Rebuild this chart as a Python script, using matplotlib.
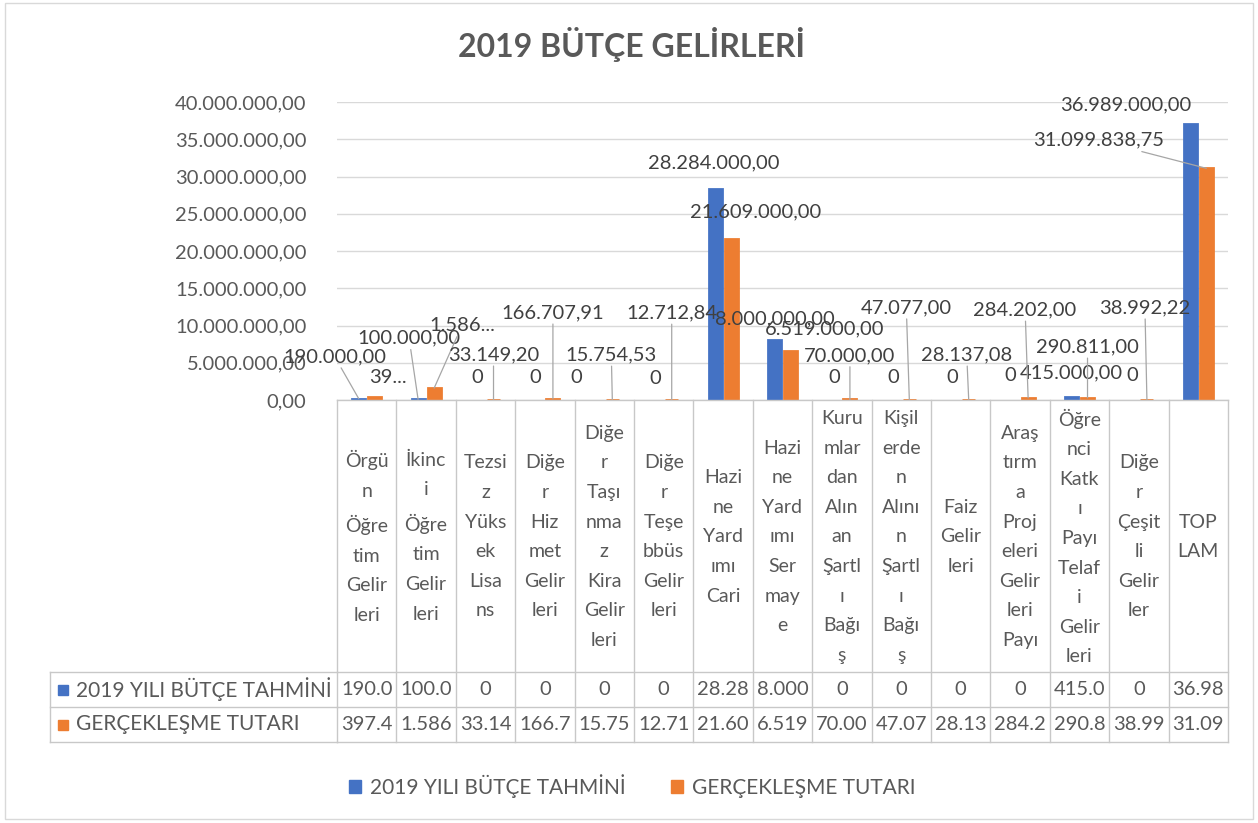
import matplotlib.pyplot as plt
import matplotlib.transforms as mtransforms
from matplotlib.patches import Rectangle, Patch
from matplotlib.lines import Line2D
from matplotlib.ticker import FuncFormatter
import numpy as np

plt.rcParams['font.family'] = ['Lato', 'DejaVu Sans']

title = '2019 BÜTÇE GELİRLERİ'
series_names = ['2019 YILI BÜTÇE TAHMİNİ', 'GERÇEKLEŞME TUTARI']

# category labels, wrapped the way the excel data table wraps them
categories = [
    'Örgü\nn\nÖğre\ntim\nGelir\nleri',
    'İkinc\ni\nÖğre\ntim\nGelir\nleri',
    'Tezsi\nz\nYüks\nek\nLisa\nns',
    'Diğe\nr\nHiz\nmet\nGelir\nleri',
    'Diğe\nr\nTaşı\nnma\nz\nKira\nGelir\nleri',
    'Diğe\nr\nTeşe\nbbüs\nGelir\nleri',
    'Hazi\nne\nYard\nımı\nCari',
    'Hazi\nne\nYard\nımı\nSer\nmay\ne',
    'Kuru\nmlar\ndan\nAlın\nan\nŞartl\nı\nBağı\nş',
    'Kişil\nerde\nn\nAlını\nn\nŞartl\nı\nBağı\nş',
    'Faiz\nGelir\nleri',
    'Araş\ntırm\na\nProj\neleri\nGelir\nleri\nPayı',
    'Öğre\nnci\nKatk\nı\nPayı\nTelaf\ni\nGelir\nleri',
    'Diğe\nr\nÇeşit\nli\nGelir\nler',
    'TOP\nLAM',
]

budget = [190000, 100000, 0, 0, 0, 0, 28284000, 8000000, 0, 0, 0, 0,
          415000, 0, 36989000]
actual = [397400, 1586000, 33149.20, 166707.91, 15754.53, 12712.84,
          21609000, 6519000, 70000, 47077, 28137.08, 284202, 290811,
          38992.22, 31099838.75]

# data label placement (pixel offsets from bar top) and leader lines
blue_off = [(-24, 42), (-9, 61), (0, 23), (-2, 23), (-20, 23), (0, 22),
            (-1, 26), (0, 22), (0, 23), (0, 23), (0, 23), (-2, 25),
            (0, 24), (1, 25), (-65, 20)]
blue_leader = [1, 1, 0, 0, 0, 0, 0, 0, 0, 0, 0, 0, 0, 0, 0]
orange_off = [(13, 20), (28, 63), (0, 45), (0, 86), (-1, 45), (0, 87),
              (25, 27), (34, 23), (0, 44), (-3, 92), (-2, 45), (-3, 88),
              (0, 51), (-2, 92), (-108, 28)]
orange_leader = [0, 1, 1, 1, 1, 1, 0, 0, 1, 1, 1, 1, 1, 1, 1]
orange_cut = {0: 2, 1: 5}

BLUE = '#4472C4'
ORANGE = '#ED7D31'
TXT = '#595959'
GRID = '#D9D9D9'
LINE = '#C8C8C8'


def tr(v, zero='0'):
    if v == 0:
        return zero
    s = f'{v:,.2f}'
    return s.replace(',', 'X').replace('.', ',').replace('X', '.')


W, H = 1258, 823
def fx(x):
    return x / W
def fy(y):
    return 1 - y / H


fig = plt.figure(figsize=(W / 100, H / 100), dpi=100)
ax = fig.add_axes([fx(337), fy(400), fx(1228) - fx(337), fy(102) - fy(400)])

x = np.arange(len(categories))
bw = 0.22
off = 0.135
# thin edge so that very small values still show a stub, like excel does
ax.bar(x - off, budget, bw, color=BLUE, edgecolor=BLUE,
       linewidth=[2 if v else 0 for v in budget], zorder=3)
ax.bar(x + off, actual, bw, color=ORANGE, edgecolor=ORANGE,
       linewidth=[2 if v else 0 for v in actual], zorder=3)
ax.set_xlim(-0.5, len(categories) - 0.5)
ax.set_ylim(0, 40e6)
ax.set_yticks(np.arange(0, 40e6 + 1, 5e6))
ax.yaxis.set_major_formatter(FuncFormatter(lambda v, p: tr(v, '0,00')))
ax.set_xticks([])
ax.grid(axis='y', color=GRID, lw=1)
ax.set_axisbelow(True)
for s in ax.spines.values():
    s.set_visible(False)
ax.tick_params(axis='y', length=0, pad=22, labelsize=14.5, labelcolor=TXT)

# data labels
for vals, offs, lead, sign, cut in [(budget, blue_off, blue_leader, -1, {}),
                                    (actual, orange_off, orange_leader, 1, orange_cut)]:
    for i, v in enumerate(vals):
        t = tr(v)
        if i in cut:
            t = t[:cut[i]] + '...'
        ap = None
        if lead[i]:
            ap = dict(arrowstyle='-', color='#A6A6A6', lw=0.9, shrinkA=0, shrinkB=0)
        ax.annotate(t, xy=(x[i] + sign * off, v), xytext=offs[i],
                    textcoords='offset pixels', ha='center', va='center',
                    fontsize=14.5, color='#404040', arrowprops=ap, zorder=5)

# data table under the plot
T = mtransforms.blended_transform_factory(ax.transData, fig.transFigure)
n = len(categories)
for i in range(n + 1):
    fig.add_artist(Line2D([i - 0.5, i - 0.5], [fy(400), fy(742)], transform=T,
                          color=LINE, lw=1))
fig.add_artist(Line2D([-0.5, n - 0.5], [fy(400), fy(400)], transform=T, color=LINE, lw=1))
for yy in [672, 707, 742]:
    fig.add_artist(Line2D([fx(50), fx(337)], [fy(yy), fy(yy)], color=LINE, lw=1))
    fig.add_artist(Line2D([-0.5, n - 0.5], [fy(yy), fy(yy)], transform=T, color=LINE, lw=1))
fig.add_artist(Line2D([fx(50), fx(50)], [fy(672), fy(742)], color=LINE, lw=1))

for i, c in enumerate(categories):
    fig.text(i, fy(537), c, transform=T, ha='center', va='center',
             fontsize=14, color=TXT, linespacing=1.9)

for row, (vals, col, name, yc) in enumerate([(budget, BLUE, series_names[0], 689.5),
                                               (actual, ORANGE, series_names[1], 724.5)]):
    fig.add_artist(Rectangle((fx(58), fy(yc + 5)), fx(10), 10 / H, color=col))
    fig.text(fx(76), fy(yc), name, ha='left', va='center', fontsize=15, color=TXT)
    for i, v in enumerate(vals):
        fig.text(i, fy(yc), tr(v)[:5], transform=T, ha='center', va='center',
                 fontsize=14.5, color=TXT)

# legend
handles = [Patch(color=BLUE, label=series_names[0]),
           Patch(color=ORANGE, label=series_names[1])]
fig.legend(handles=handles, loc='center', bbox_to_anchor=(fx(632), fy(786)),
           ncol=2, frameon=False, fontsize=15, labelcolor=TXT,
           handlelength=0.6, handleheight=0.6, handletextpad=0.4,
           columnspacing=2.2)

fig.text(fx(632), fy(45), title, ha='center', va='center', fontsize=23,
         fontweight='bold', color=TXT)

fig.add_artist(Rectangle((fx(5), fy(819)), fx(1253) - fx(5), fy(3) - fy(819),
                         fill=False, edgecolor=GRID, lw=1))

fig.savefig('out.png', dpi=100)
